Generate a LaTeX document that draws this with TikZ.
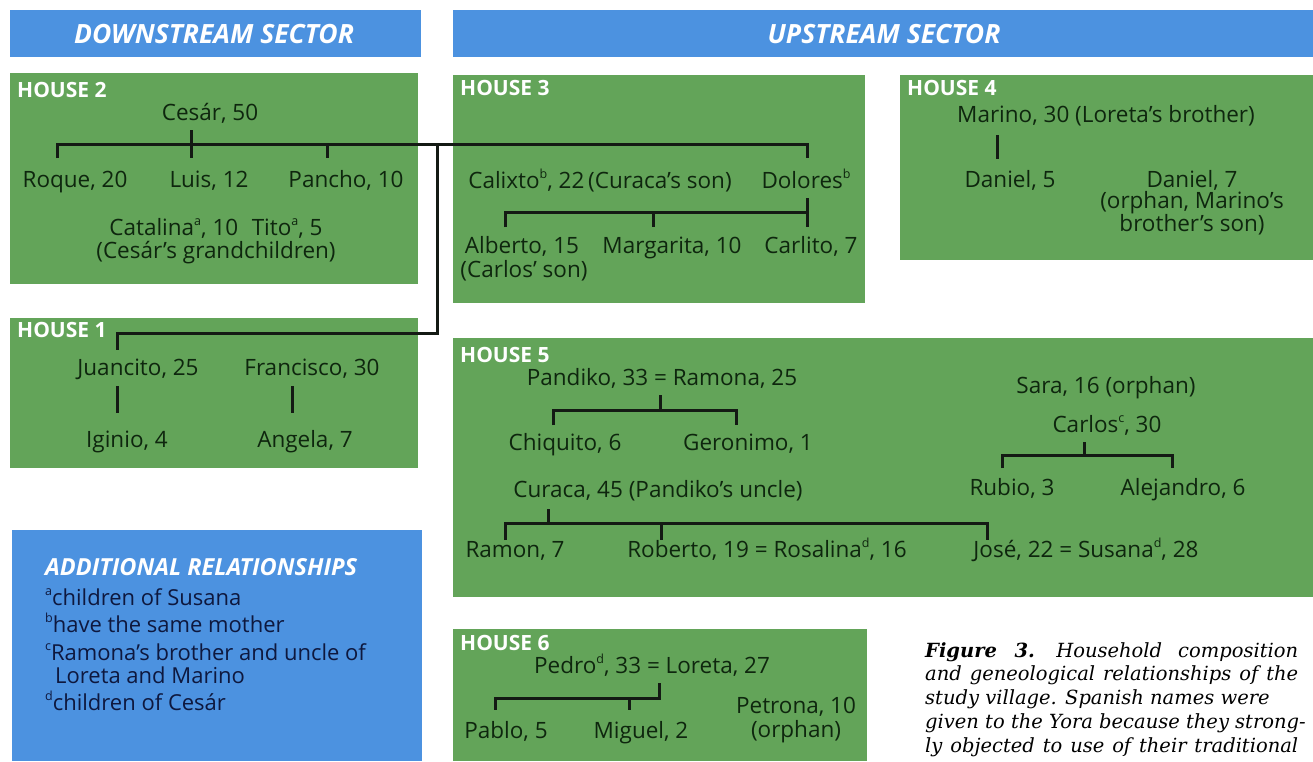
\documentclass[tikz,border=0pt]{standalone}
\usepackage{fontspec}
\setmainfont{Open Sans}
\newfontfamily\capfont{DejaVu Serif}
\definecolor{hblue}{RGB}{76,146,224}
\definecolor{hgreen}{RGB}{99,164,89}
\definecolor{ink}{RGB}{14,38,14}
\definecolor{navy}{RGB}{14,24,62}
\definecolor{lineC}{RGB}{20,26,20}
\newcommand{\supx}[1]{\raisebox{0.42em}{\fontsize{12.5}{12.5}\selectfont #1}}
\tikzset{
  hdr/.style={fill=hblue},
  hbox/.style={fill=hgreen},
  nm/.style={anchor=base, inner sep=0pt, text=ink, font=\fontsize{22.5}{26}\selectfont},
  nm2/.style={anchor=north, inner sep=0pt, text=ink, align=center, font=\fontsize{22.5}{19}\selectfont},
  hlab/.style={anchor=base west, inner sep=0pt, text=white, font=\bfseries\fontsize{21}{24}\selectfont},
  sect/.style={anchor=base, inner sep=0pt, text=white, font=\bfseries\itshape\fontsize{26.5}{28}\selectfont},
  rel/.style={anchor=base west, inner sep=0pt, text=navy, font=\fontsize{22}{26}\selectfont},
  reltitle/.style={anchor=base west, inner sep=0pt, text=white, font=\bfseries\itshape\fontsize{23.5}{26}\selectfont},
  capt/.style={anchor=base west, inner sep=0pt, text=black, font=\capfont\itshape\fontsize{19.5}{23}\selectfont},
  tie/.style={draw=lineC, line width=3pt},
}
\begin{document}
\begin{tikzpicture}[x=1pt, y=-1pt]
\useasboundingbox[fill=white] (0,0) rectangle (1313,761);
% headers
\path[hdr] (10,10) rectangle (421,57);
\path[hdr] (453,10) rectangle (1313,57);
\node[sect] (down) at (214,43) {DOWNSTREAM SECTOR};
\node[sect] (up) at (884,43) {UPSTREAM SECTOR};
% boxes
\path[hbox] (10,73) rectangle (418,284);   % house 2
\path[hbox] (453,75) rectangle (865,303);  % house 3
\path[hbox] (900,75) rectangle (1313,260); % house 4
\path[hbox] (10,318) rectangle (418,468);  % house 1
\path[hbox] (453,338) rectangle (1313,597);% house 5
\path[hdr]  (12,530) rectangle (422,761);  % additional
\path[hbox] (453,629) rectangle (867,761); % house 6

% ---------- HOUSE 2
\node[hlab] (h2) at (17,97) {HOUSE 2};
\node[nm] (cesar) at (210,120) {Cesár, 50};
\node[nm] (roque) at (75,187) {Roque, 20};
\node[nm] (luis) at (209,187) {Luis, 12};
\node[nm] (pancho) at (346,187) {Pancho, 10};
\node[nm] (catal) at (216,235) {Catalina\supx{a}, 10\hspace{0.6em}Tito\supx{a}, 5};
\node[nm] (grand) at (216,258) {(Cesár’s grandchildren)};

% ---------- HOUSE 3
\node[hlab] (h3) at (460,95) {HOUSE 3};
\node[nm] (calixto) at (600,188) {Calixto\supx{b}, 22\,(Curaca’s son)};
\node[nm] (dolores) at (806,188) {Dolores\supx{b}};
\node[nm] (alberto) at (522,253) {Alberto, 15};
\node[nm] (carlson) at (524,277) {(Carlos’ son)};
\node[nm] (marg) at (672,253) {Margarita, 10};
\node[nm] (carlito) at (811,253) {Carlito, 7};

% ---------- HOUSE 4
\node[hlab] (h4) at (907,95) {HOUSE 4};
\node[nm] (marino) at (1106,122) {Marino, 30 (Loreta’s brother)};
\node[nm] (dan5) at (1010,187) {Daniel, 5};
\node[nm] (dan7) at (1192,187) {Daniel, 7};
\node[nm2] (dan7b) at (1192,191) {(orphan, Marino’s\\brother’s son)};

% ---------- HOUSE 1
\node[hlab] (h1) at (17,337) {HOUSE 1};
\node[nm] (juan) at (138,375) {Juancito, 25};
\node[nm] (fran) at (312,375) {Francisco, 30};
\node[nm] (iginio) at (127,447) {Iginio, 4};
\node[nm] (angela) at (305,447) {Angela, 7};

% ---------- HOUSE 5
\node[hlab] (h5) at (460,362) {HOUSE 5};
\node[nm] (pandiko) at (662,385) {Pandiko, 33 = Ramona, 25};
\node[nm] (chiq) at (565,450) {Chiquito, 6};
\node[nm] (geron) at (748,450) {Geronimo, 1};
\node[nm] (curaca) at (658,497) {Curaca, 45 (Pandiko’s uncle)};
\node[nm] (ramon) at (515,557) {Ramon, 7};
\node[nm] (roberto) at (767,557) {Roberto, 19 = Rosalina\supx{d}, 16};
\node[nm] (jose) at (1086,557) {José, 22 = Susana\supx{d}, 28};
\node[nm] (sara) at (1106,393) {Sara, 16 (orphan)};
\node[nm] (carlos) at (1107,432) {Carlos\supx{c}, 30};
\node[nm] (rubio) at (1012,495) {Rubio, 3};
\node[nm] (alej) at (1183,495) {Alejandro, 6};

% ---------- HOUSE 6
\node[hlab] (h6) at (460,650) {HOUSE 6};
\node[nm] (pedro) at (652,673) {Pedro\supx{d}, 33 = Loreta, 27};
\node[nm] (pablo) at (506,738) {Pablo, 5};
\node[nm] (miguel) at (641,738) {Miguel, 2};
\node[nm] (petrona) at (796,713) {Petrona, 10};
\node[nm] (orph) at (796,737) {(orphan)};

% ---------- ADDITIONAL RELATIONSHIPS
\node[reltitle] (addt) at (45,575) {ADDITIONAL RELATIONSHIPS};
\node[rel] (ra) at (45,605) {\supx{a}children of Susana};
\node[rel] (rb) at (45,632) {\supx{b}have the same mother};
\node[rel] (rc) at (45,660) {\supx{c}Ramona’s brother and uncle of};
\node[rel] (rc2) at (55,683) {Loreta and Marino};
\node[rel] (rd) at (45,710) {\supx{d}children of Cesár};

% ---------- caption
\node[capt] (cap1) at (925,657) {\makebox[373pt][s]{\textbf{Figure 3.}\hspace{1.1em}Household composition}};
\node[capt] (cap2) at (925,680) {\makebox[373pt][s]{and geneological relationships of the}};
\node[capt] (cap3) at (925,704) {study village. Spanish names were};
\node[capt] (cap4) at (925,728) {given to the Yora because they strong-};
\node[capt] (cap5) at (925,752) {\makebox[373pt][s]{ly objected to use of their traditional}};

% ---------- connectors (family lines)
% house 2 / 3 / 1
\coordinate (c2a) at (191,130);
\coordinate (c2b) at (191,158);
\coordinate (barL) at (57,144);
\coordinate (barR) at (807,144);
\coordinate (barJ) at (437,144);
\coordinate (roqueT) at (57,158);
\coordinate (panchoT) at (327,158);
\coordinate (panchoB) at (327,144);
\coordinate (doloresT) at (807,158);
\coordinate (h1turn) at (437,333);
\coordinate (h1L) at (117,333);
\coordinate (juanT) at (117,350);
\draw[tie] (c2a) -- (c2b);
\draw[tie] (roqueT) -- (barL) -- (barR) -- (doloresT);
\draw[tie] (panchoB) -- (panchoT);
\draw[tie] (barJ) -- (h1turn) -- (h1L) -- (juanT);
% house 3 lower
\coordinate (d3a) at (807,198);
\coordinate (d3b) at (807,227);
\coordinate (d3L) at (505,212);
\coordinate (d3R) at (807,212);
\coordinate (albT) at (505,227);
\coordinate (margA) at (653,212);
\coordinate (margT) at (653,227);
\draw[tie] (d3a) -- (d3b);
\draw[tie] (albT) -- (d3L) -- (d3R);
\draw[tie] (margA) -- (margT);
% house 4
\coordinate (m4a) at (997,135);
\coordinate (m4b) at (997,159);
\draw[tie] (m4a) -- (m4b);
% house 1
\coordinate (j1a) at (117,386);
\coordinate (j1b) at (117,413);
\coordinate (f1a) at (292,386);
\coordinate (f1b) at (292,413);
\draw[tie] (j1a) -- (j1b);
\draw[tie] (f1a) -- (f1b);
% house 5 Pandiko
\coordinate (p5a) at (660,395);
\coordinate (p5b) at (660,410);
\coordinate (p5L) at (553,410);
\coordinate (p5R) at (736,410);
\coordinate (chiqT) at (553,425);
\coordinate (geroT) at (736,425);
\draw[tie] (p5a) -- (p5b);
\draw[tie] (chiqT) -- (p5L) -- (p5R) -- (geroT);
% house 5 Curaca
\coordinate (k5a) at (548,509);
\coordinate (k5b) at (548,523);
\coordinate (k5L) at (505,523);
\coordinate (k5R) at (987,523);
\coordinate (ramT) at (505,540);
\coordinate (robA) at (661,523);
\coordinate (robT) at (661,540);
\coordinate (joseT) at (987,540);
\draw[tie] (k5a) -- (k5b);
\draw[tie] (ramT) -- (k5L) -- (k5R) -- (joseT);
\draw[tie] (robA) -- (robT);
% house 5 Carlos
\coordinate (q5a) at (1084,442);
\coordinate (q5b) at (1084,455);
\coordinate (q5L) at (1002,455);
\coordinate (q5R) at (1172,455);
\coordinate (rubT) at (1002,468);
\coordinate (aleT) at (1172,468);
\draw[tie] (q5a) -- (q5b);
\draw[tie] (rubT) -- (q5L) -- (q5R) -- (aleT);
% house 6
\coordinate (e6a) at (659,683);
\coordinate (e6b) at (659,698);
\coordinate (e6L) at (495,698);
\coordinate (pabT) at (495,710);
\coordinate (migA) at (629,698);
\coordinate (migT) at (629,710);
\draw[tie] (e6a) -- (e6b) -- (e6L) -- (pabT);
\draw[tie] (migA) -- (migT);
\end{tikzpicture}
\end{document}
